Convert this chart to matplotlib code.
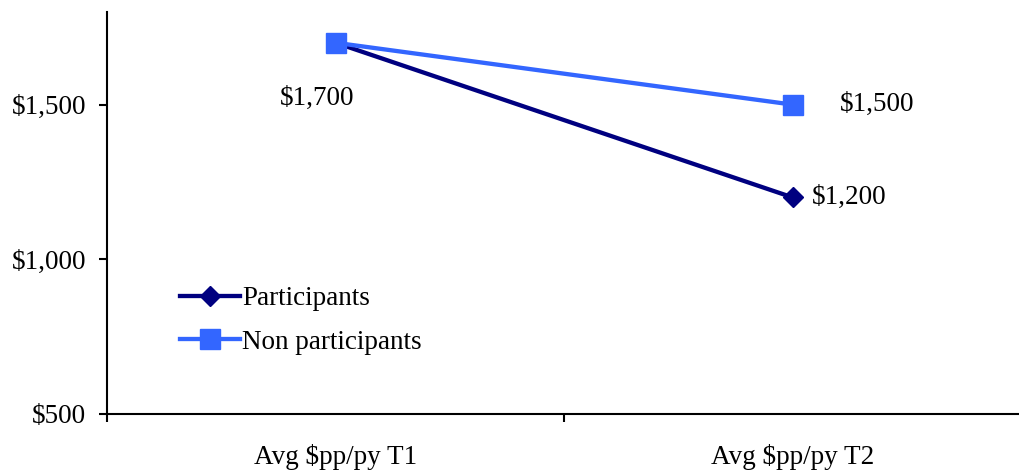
import matplotlib.pyplot as plt
from matplotlib.ticker import FuncFormatter, FixedLocator

categories = ["Avg $pp/py T1", "Avg $pp/py T2"]
participants = [1700, 1200]
non_participants = [1700, 1500]
y_ticks = [500, 1000, 1500]

plt.rcParams["font.family"] = ["Liberation Serif", "DejaVu Serif"]
plt.rcParams["font.size"] = 19.5

fig = plt.figure(figsize=(10.19, 4.73), dpi=100)
ax = fig.add_axes([0.105, 0.125, 0.897, 0.85])

x = list(range(len(categories)))
ax.plot(x, participants, color="#000080", linewidth=3.1, marker="D",
        markersize=10.5, label="Participants", zorder=3)
ax.plot(x, non_participants, color="#3366FF", linewidth=3.1, marker="s",
        markersize=15, label="Non participants", zorder=4)

# value labels
ax.annotate(f"${participants[0]:,}", (0, participants[0]), xytext=(-13, -40),
            textcoords="offset points", ha="center", va="center")
ax.annotate(f"${non_participants[1]:,}", (1, non_participants[1]), xytext=(61, 0),
            textcoords="offset points", ha="center", va="center")
ax.annotate(f"${participants[1]:,}", (1, participants[1]), xytext=(41, 0),
            textcoords="offset points", ha="center", va="center")

ax.set_xlim(-0.5, 1.5)
ax.set_ylim(500, 1800)
ax.set_yticks(y_ticks)
ax.yaxis.set_major_formatter(FuncFormatter(lambda v, p: f"${v:,.0f}"))

ax.set_xticks(x)
ax.set_xticklabels(categories)
ax.xaxis.set_minor_locator(FixedLocator([-0.5, 0.5, 1.5]))
ax.tick_params(axis="x", which="major", length=0, pad=22)
ax.tick_params(axis="x", which="minor", length=6, width=1.5, direction="out")
ax.tick_params(axis="y", length=6, width=1.5, direction="out", pad=9)

for side in ["top", "right"]:
    ax.spines[side].set_visible(False)
for side in ["left", "bottom"]:
    ax.spines[side].set_linewidth(1.5)

ax.legend(loc="upper left", bbox_to_anchor=(0.068, 0.345), frameon=False,
          handlelength=2.2, handletextpad=0.1, labelspacing=0.7,
          borderaxespad=0)

fig.savefig("out.png", dpi=100)
